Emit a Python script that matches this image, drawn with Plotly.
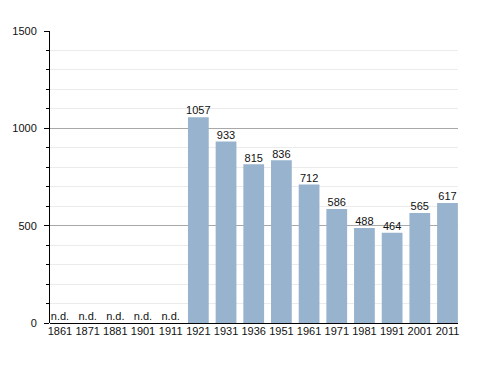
import plotly.graph_objects as go

years = ["1861", "1871", "1881", "1901", "1911", "1921", "1931", "1936",
         "1951", "1961", "1971", "1981", "1991", "2001", "2011"]
population = [None, None, None, None, None, 1057, 933, 815, 836, 712, 586, 488, 464, 565, 617]
y_ticks = [0, 500, 1000, 1500]

bar_vals = [v if v is not None else 0 for v in population]
label_text = [str(v) if v is not None else "n.d." for v in population]

FONT = "Liberation Sans, Arial, sans-serif"

fig = go.Figure()
fig.add_trace(go.Bar(
    x=years, y=bar_vals,
    marker=dict(color="#98b3cd", line=dict(width=0)),
    showlegend=False, hoverinfo="x+y",
))
fig.add_trace(go.Scatter(
    x=years, y=bar_vals, mode="text", text=label_text,
    textposition="top center",
    textfont=dict(size=11, color="#111111", family=FONT),
    showlegend=False, cliponaxis=False, hoverinfo="skip",
))

fig.update_layout(
    width=488, height=373,
    margin=dict(l=50, r=30, t=31, b=50, autoexpand=False),
    paper_bgcolor="white", plot_bgcolor="white",
    bargap=0.25,
    font=dict(family=FONT, size=11, color="#111111"),
    xaxis=dict(
        type="category", range=[-0.36, 14.38],
        showgrid=False, showline=False, ticks="", tickangle=0,
        tickfont=dict(size=11, color="#111111"), zeroline=False, automargin=False,
    ),
    yaxis=dict(
        range=[0, 1500], tickvals=y_ticks, showgrid=True, gridcolor="#a8a8a8", gridwidth=1,
        showline=True, linecolor="black", linewidth=1,
        ticks="outside", ticklen=5, tickcolor="black", ticklabelstandoff=5,
        zeroline=True, zerolinecolor="black", zerolinewidth=1,
        tickfont=dict(size=11, color="#111111"), automargin=False,
        minor=dict(dtick=100, showgrid=True, gridcolor="#ebebeb", gridwidth=1,
                   ticks="outside", ticklen=3, tickcolor="black"),
    ),
)

fig.write_html("out.html", config={"displayModeBar": False},
               post_script="document.body.style.margin='0';")
